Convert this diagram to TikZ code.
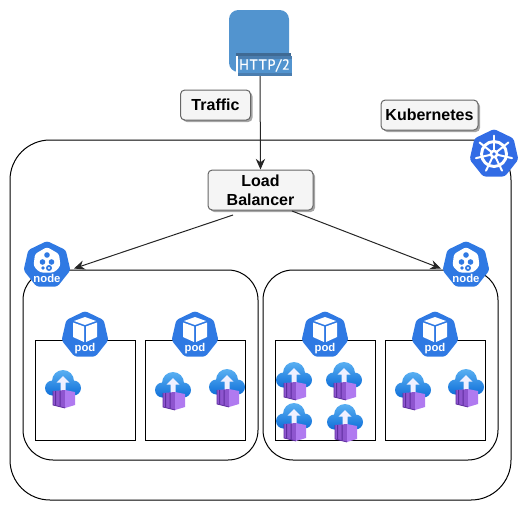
\documentclass[tikz,border=0pt]{standalone}
\usepackage{fontspec}
\setmainfont{Liberation Sans}
\newfontfamily\httpfont[LetterSpace=4,FakeBold=0.6]{PT Sans}
\usetikzlibrary{shadows,arrows.meta}
\definecolor{kblue}{HTML}{326CE5}
\definecolor{nblue}{HTML}{2F79E3}
\definecolor{httpblue}{HTML}{5294CF}
\definecolor{httpdark}{HTML}{4A7DAF}
\definecolor{httpdarker}{HTML}{3F6A94}
\definecolor{cloudtop}{HTML}{5AB0F2}
\definecolor{cloudbot}{HTML}{0F6FD8}
\definecolor{boxlight}{HTML}{B07AF0}
\definecolor{boxmid}{HTML}{8E55CF}
\definecolor{boxdark}{HTML}{5E2E9E}
\tikzset{
  x=0.75pt,y=-0.75pt,
  frame/.style={draw=black,line width=0.75pt,fill=none},
  labelbox/.style={draw=black!60,line width=0.75pt,fill=black!4,rounded corners=3.2pt,
    font=\bfseries\fontsize{12pt}{14.5pt}\selectfont,align=center,inner sep=0pt,
    drop shadow={shadow xshift=1.5pt,shadow yshift=-1.5pt,opacity=0.35,fill=black}},
  link/.style={draw=black!85,line width=0.75pt,-{Stealth[length=8pt,width=7pt]}},
  anchorspot/.style={inner sep=0pt,minimum size=36pt,draw=none},
  heptagon/.pic={
    \begin{scope}[x=0.75pt,y=0.75pt]
      \fill[nblue,rounded corners=2pt]
        (90:24) -- (38.57:24) -- (-12.86:24) -- (-64.29:24) -- (-115.71:24) -- (-167.14:24) -- (141.43:24) -- cycle;
    \end{scope}
  },
  nodeicon/.pic={
    \pic {heptagon};
    \begin{scope}[x=0.75pt,y=0.75pt]
      \fill[white,rounded corners=2pt] (0,18) -- (12,11) -- (13.5,-1) -- (7,-7.5) -- (-7,-7.5) -- (-13.5,-1) -- (-12,11) -- cycle;
      \fill[nblue] (0,10) circle (2.8) (-4.5,3) circle (2.8) (4.5,3) circle (2.8) (-4,-3) circle (1.8) (2,-3) circle (3);
      \fill[white] (2,-3) circle (1.1);
      \node[text=white,font=\bfseries\fontsize{8.5pt}{9pt}\selectfont,inner sep=0pt] at (0,-13.5) {node};
    \end{scope}
  },
  podicon/.pic={
    \pic {heptagon};
    \begin{scope}[x=0.75pt,y=0.75pt]
      \fill[white] (0,18) -- (-11,14) -- (0,10) -- (11,14) -- cycle;
      \fill[white] (-12,12.5) -- (-1,8.5) -- (-1,-7) -- (-12,-2) -- cycle;
      \fill[white] (12,12.5) -- (1,8.5) -- (1,-7) -- (12,-2) -- cycle;
      \node[text=white,font=\bfseries\fontsize{8.5pt}{9pt}\selectfont,inner sep=0pt] at (0,-13.5) {pod};
    \end{scope}
  },
  wheelicon/.pic={
    \begin{scope}[x=0.75pt,y=0.75pt]
      \fill[kblue,rounded corners=2pt]
        (90:25) -- (38.57:25) -- (-12.86:25) -- (-64.29:25) -- (-115.71:25) -- (-167.14:25) -- (141.43:25) -- cycle;
      \draw[white,line width=2.2pt] (0,0) circle (12.5);
      \foreach \a in {90,38.57,-12.86,-64.29,-115.71,-167.14,141.43}{
        \draw[white,line width=1.5pt,line cap=round] (\a:3) -- (\a:18.5);
      }
      \fill[white] (0,0) circle (4.5);
      \fill[kblue] (0,0) circle (1.8);
    \end{scope}
  },
  appicon/.pic={
    \begin{scope}[x=0.75pt,y=0.75pt]
      \shade[top color=cloudtop,bottom color=cloudbot]
        (0,4) circle (11) (-10.5,-3) circle (7.5) (10.5,-3) circle (7.5) (10.5,-10.5) rectangle (-10.5,2);
      \fill[white!94!blue] (0,9) -- (6.5,2.5) -- (2.5,2.5) -- (2.5,-6) -- (-2.5,-6) -- (-2.5,2.5) -- (-6.5,2.5) -- cycle;
      \fill[boxmid] (-10,-6) -- (2,-5) -- (2,-23) -- (-10,-20) -- cycle;
      \fill[boxlight] (2,-5) -- (12,-7) -- (12,-20) -- (2,-23) -- cycle;
      \fill[boxdark] (-8,-6.2) rectangle (-7,-20.5) (-3.5,-5.8) rectangle (-2.5,-21.5);
      \draw[boxdark,line width=0.6pt] (-10,-6) -- (-10,-20) -- (2,-23);
    \end{scope}
  }
}
\begin{document}
\begin{tikzpicture}
\useasboundingbox (0,0) rectangle (531,511);

% frames
\draw[frame,rounded corners=30pt] (10,140) rectangle (511,500);
\draw[frame,rounded corners=22.5pt] (23,270) rectangle (258,460);
\draw[frame,rounded corners=22.5pt] (263,270) rectangle (498,460);
\draw[frame] (35,340) rectangle (135,440);
\draw[frame] (145,340) rectangle (245,440);
\draw[frame] (275,340) rectangle (375,440);
\draw[frame] (385,340) rectangle (485,440);

% HTTP/2 icon
\fill[httpblue,rounded corners=7pt] (229,10) rectangle (289,72);
\fill[httpdarker] (236,53) rectangle (291,59);
\fill[white] (236,56) rectangle (238,76);
\fill[httpdark] (238,56) rectangle (292,76);
\fill[httpblue] (238,59) rectangle (292,73);
\node[text=white,font=\httpfont\fontsize{11pt}{13pt}\selectfont,inner sep=0pt] (http) at (264.5,65.5) {HTTP/2};
\coordinate (httpfoot) at (260,76);

% Named nodes
\node[labelbox,minimum width=52.5pt,minimum height=22.5pt] (traffic) at (215.5,105) {Traffic};
\node[labelbox,minimum width=72.75pt,minimum height=22.5pt] (kube) at (429.5,115) {Kubernetes};
\node[labelbox,minimum width=78.75pt,minimum height=30pt] (lb) at (260.5,190) {Load\\Balancer};

\node[anchorspot] (nodeL) at (47,265) {};
\node[anchorspot] (nodeR) at (466,265) {};
\coordinate (tipL) at (74,268.5);
\coordinate (tipR) at (441,268.5);
\coordinate (lbL) at (233,215);
\coordinate (lbR) at (292,211);

% connectors
\draw[link] (httpfoot) -- (lb.north);
\draw[link] (lbL) -- (tipL);
\draw[link] (lbR) -- (tipR);

% icons
\pic at (494,154) {wheelicon};
\pic at (nodeL) {nodeicon};
\pic at (nodeR) {nodeicon};
\pic at (85,335) {podicon};
\pic at (195,335) {podicon};
\pic at (325,335) {podicon};
\pic at (435,335) {podicon};

\foreach \p in {(63,385),(173,387),(227,384),(294,377),(344,377),(294,418),(345,419),(413,387),(466,384)}{
  \pic at \p {appicon};
}
\end{tikzpicture}
\end{document}
